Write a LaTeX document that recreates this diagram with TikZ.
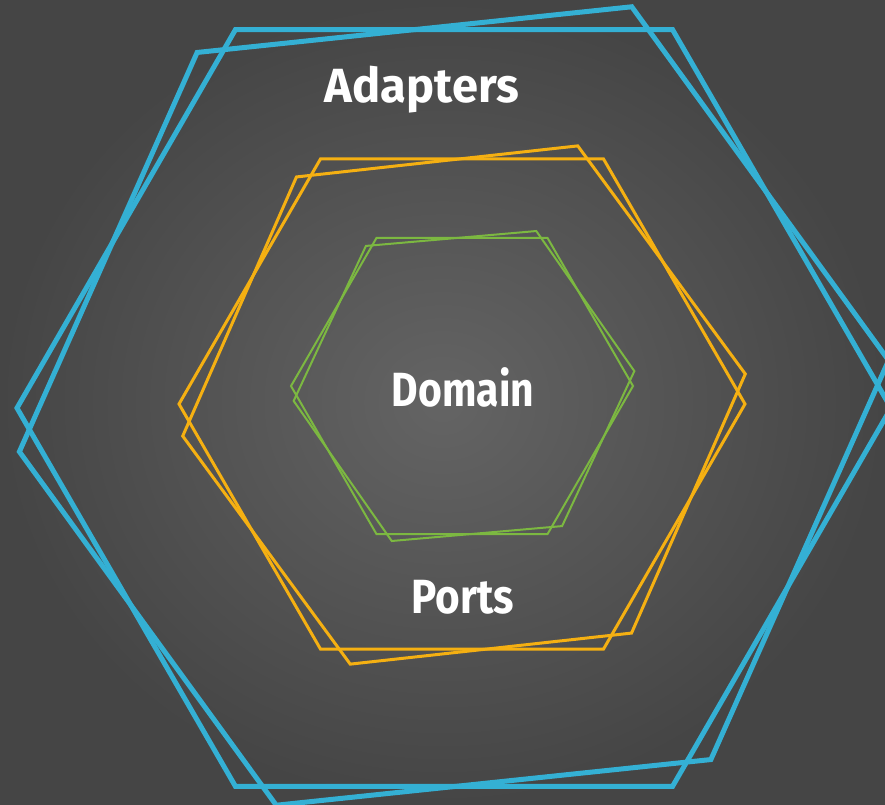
\documentclass[tikz,border=0pt]{standalone}
\usepackage{fontspec}
\setmainfont{Fira Sans}
\definecolor{hexblue}{HTML}{34B0D4}
\definecolor{hexorange}{HTML}{F5B012}
\definecolor{hexgreen}{HTML}{7CB841}
\definecolor{bginner}{HTML}{646464}
\definecolor{bgouter}{HTML}{454545}
\newcommand\hexagonat[5]{% style, cx, cy, R, rotation
  \begin{scope}[shift={(#2,#3)},rotate=#5]
    \draw[#1] (0:#4) \foreach \a in {60,120,...,300} { -- (\a:#4) } -- cycle;
  \end{scope}}
\tikzset{
  blueline/.style={draw=hexblue,line width=5pt},
  orangeline/.style={draw=hexorange,line width=3pt},
  greenline/.style={draw=hexgreen,line width=2pt},
  label/.style={text=white,font=\bfseries\fontsize{48}{52}\selectfont,inner sep=0pt}
}
\begin{document}
\begin{tikzpicture}[x=1pt,y=-1pt]
  \useasboundingbox (0,0) rectangle (885,804);
  \shade[inner color=bginner,outer color=bgouter] (0,0) rectangle (885,804);
  \begin{scope}
    \clip (0,0) rectangle (885,804);
    \hexagonat{blueline}{454}{408}{437}{0}
    \hexagonat{blueline}{454}{406}{437}{6}
    \hexagonat{orangeline}{462}{404}{283}{0}
    \hexagonat{orangeline}{464}{405}{283}{6.3}
    \hexagonat{greenline}{462}{386}{171}{0}
    \hexagonat{greenline}{464}{386}{171}{5}
  \end{scope}
  \node[label,xscale=0.98] (adapters) at (422,90) {Adapters};
  \node[label,xscale=0.85] (domain) at (463,387) {Domain};
  \node[label,xscale=0.88] (ports) at (463,597) {Ports};
\end{tikzpicture}
\end{document}
